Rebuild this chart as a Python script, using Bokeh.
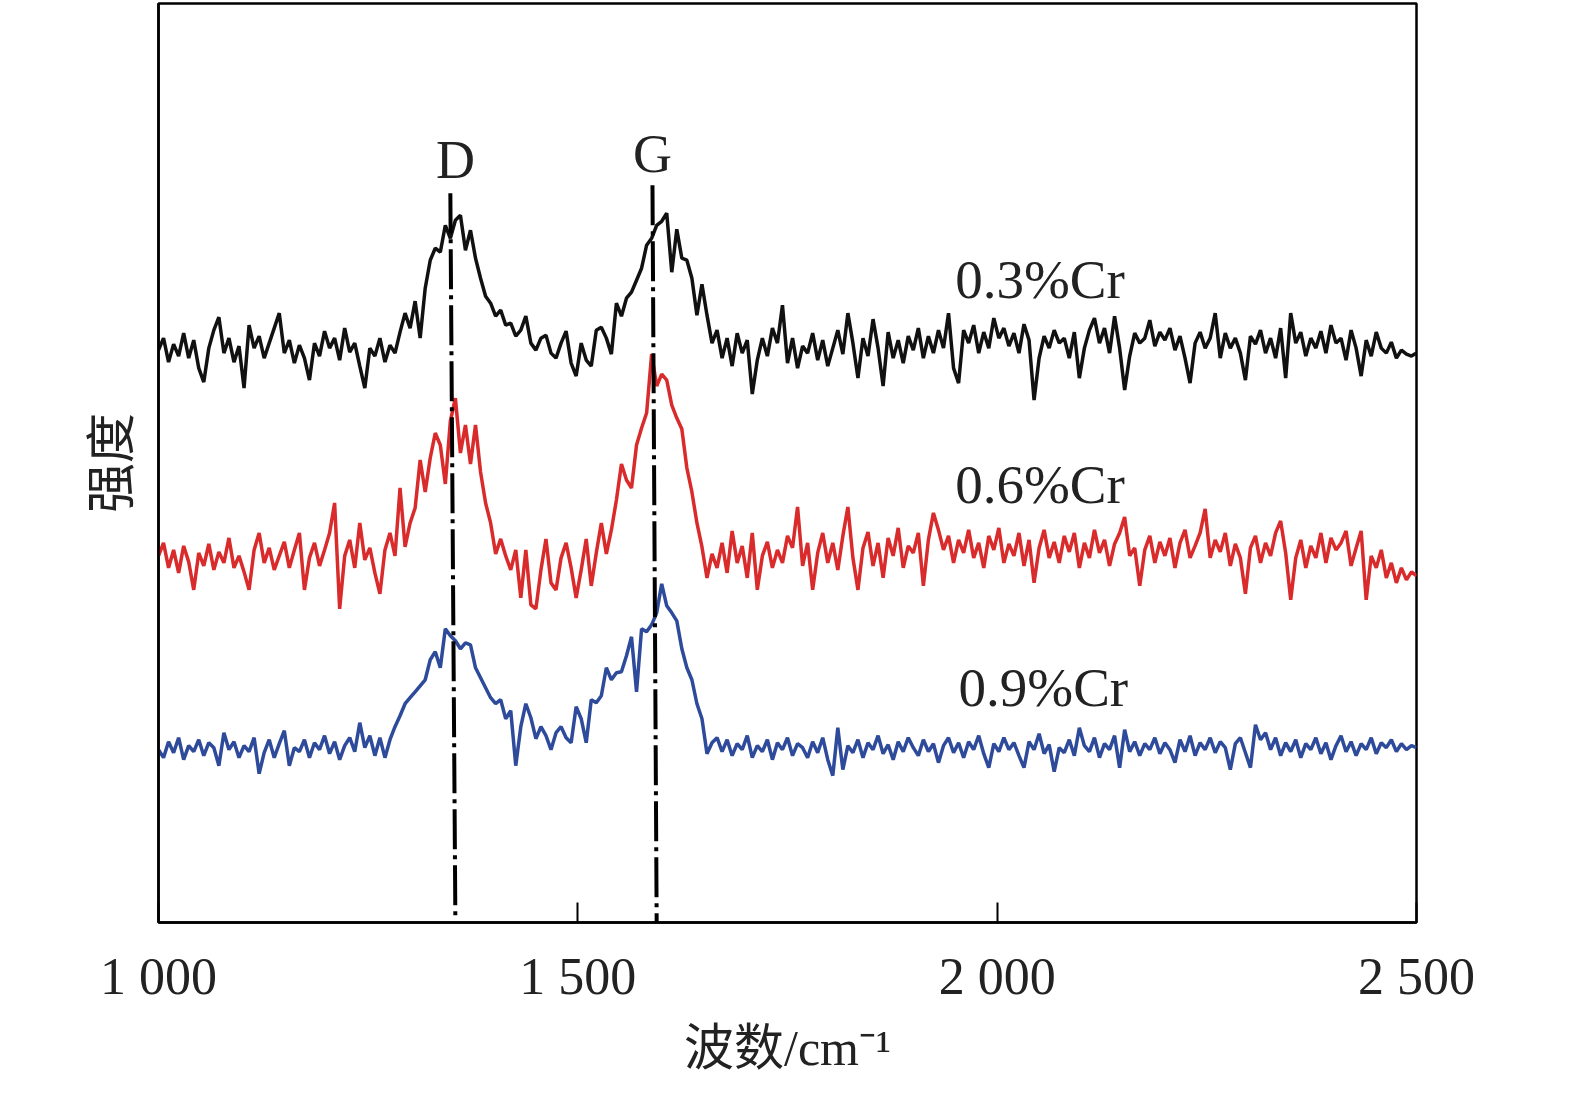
import numpy as np
from bokeh.plotting import figure
from bokeh.models import FixedTicker, Range1d
from bokeh.core.properties import value
from bokeh.embed import file_html
from bokeh.resources import INLINE

# Raman spectra, wavenumber grid (cm-1) and intensities (a.u.)
wavenumber = np.linspace(1000, 2500, 251)

cr03 = [578, 590, 566, 584, 572, 595, 570, 588, 560, 546,
        580, 598, 611, 575, 590, 566, 582, 540, 603, 580,
        592, 570, 585, 600, 615, 575, 588, 565, 583, 570,
        548, 585, 572, 597, 580, 590, 568, 600, 576, 585,
        562, 540, 580, 572, 590, 566, 583, 575, 596, 615,
        600, 627, 590, 640, 668, 680, 676, 703, 690, 708,
        713, 678, 698, 670, 650, 632, 625, 612, 618, 603,
        605, 592, 598, 612, 585, 578, 590, 593, 575, 570,
        585, 597, 565, 552, 585, 568, 562, 598, 601, 590,
        574, 625, 612, 630, 636, 648, 660, 683, 690, 703,
        707, 715, 656, 699, 670, 668, 650, 613, 644, 613,
        585, 598, 570, 590, 562, 595, 575, 588, 534, 568,
        590, 572, 600, 585, 623, 565, 590, 560, 582, 575,
        595, 568, 588, 562, 580, 598, 574, 615, 585, 550,
        590, 572, 609, 580, 542, 596, 570, 588, 565, 592,
        578, 600, 570, 592, 575, 598, 580, 615, 560, 545,
        598, 585, 603, 575, 596, 580, 610, 590, 600, 582,
        595, 575, 604, 588, 528, 570, 592, 580, 598, 585,
        590, 570, 596, 550, 580, 598, 610, 585, 600, 575,
        612, 580, 538, 572, 595, 585, 590, 608, 582, 596,
        588, 600, 578, 592, 570, 545, 585, 596, 580, 590,
        615, 570, 595, 580, 590, 575, 548, 592, 584, 598,
        575, 590, 570, 600, 550, 615, 585, 596, 572, 590,
        580, 597, 575, 603, 585, 590, 568, 598, 580, 552,
        588, 572, 596, 580, 575, 586, 570, 578, 574, 572, 575]

cr06 = [372, 385, 360, 378, 355, 382, 366, 338, 375, 362,
        384, 358, 376, 365, 390, 360, 372, 356, 338, 378,
        395, 365, 380, 358, 372, 386, 360, 378, 395, 338,
        370, 385, 362, 378, 395, 425, 319, 372, 388, 360,
        405, 368, 380, 355, 334, 378, 395, 372, 440, 381,
        405, 420, 468, 436, 470, 495, 483, 444, 507, 530,
        475, 503, 464, 503, 456, 425, 405, 374, 389, 372,
        358, 378, 330, 378, 323, 319, 358, 389, 345, 338,
        370, 385, 360, 330, 358, 389, 342, 375, 405, 374,
        398, 428, 464, 448, 440, 483, 500, 515, 574, 542,
        554, 548, 523, 510, 499, 460, 436, 405, 381, 350,
        374, 360, 385, 355, 397, 365, 382, 350, 395, 338,
        372, 386, 360, 378, 365, 392, 380, 421, 362, 385,
        338, 375, 395, 365, 385, 358, 392, 421, 370, 338,
        380, 396, 362, 385, 350, 390, 372, 400, 360, 382,
        375, 395, 342, 388, 415, 398, 378, 392, 365, 388,
        375, 398, 370, 385, 360, 392, 378, 400, 365, 384,
        372, 395, 362, 388, 345, 380, 398, 370, 386, 365,
        392, 376, 395, 360, 385, 370, 398, 375, 388, 362,
        384, 395, 411, 372, 380, 342, 378, 392, 365, 386,
        372, 390, 360, 385, 398, 370, 382, 395, 419, 370,
        388, 376, 395, 362, 384, 370, 334, 380, 392, 365,
        385, 372, 395, 407, 375, 328, 370, 388, 360, 382,
        370, 395, 365, 390, 378, 385, 397, 362, 380, 397,
        328, 372, 360, 378, 350, 365, 345, 360, 348, 356, 352]

cr09 = [178, 170, 186, 175, 190, 168, 182, 176, 188, 172,
        185, 180, 162, 195, 178, 186, 170, 182, 176, 190,
        154, 175, 188, 170, 184, 197, 162, 180, 176, 188,
        170, 185, 178, 192, 174, 186, 168, 182, 190, 176,
        205, 180, 192, 172, 190, 170, 188, 201, 212, 224,
        230, 236, 242, 248, 268, 276, 260, 299, 292, 287,
        279, 285, 283, 260, 250, 240, 230, 224, 228, 209,
        217, 162, 201, 224, 210, 189, 201, 192, 178, 195,
        201, 190, 185, 221, 209, 185, 228, 225, 232, 260,
        248, 255, 256, 272, 291, 236, 299, 296, 303, 315,
        344, 322, 315, 307, 279, 260, 248, 224, 209, 174,
        185, 190, 176, 188, 172, 184, 178, 192, 170, 182,
        176, 188, 168, 185, 178, 190, 172, 184, 180, 170,
        186, 175, 190, 168, 152, 200, 158, 182, 175, 188,
        170, 185, 178, 192, 174, 183, 168, 186, 176, 190,
        180, 172, 188, 176, 184, 165, 182, 190, 175, 185,
        170, 186, 178, 192, 174, 160, 184, 176, 190, 178,
        185, 172, 160, 186, 178, 194, 174, 183, 156, 180,
        175, 188, 172, 200, 182, 176, 190, 170, 184, 178,
        192, 160, 198, 176, 186, 172, 184, 178, 190, 174,
        185, 178, 165, 188, 176, 192, 172, 185, 178, 190,
        175, 186, 180, 158, 184, 190, 175, 160, 203, 188,
        195, 178, 190, 172, 185, 176, 188, 170, 184, 178,
        190, 174, 185, 168, 182, 192, 176, 186, 172, 184,
        178, 190, 174, 185, 180, 188, 176, 184, 178, 182, 180]

series_names = ["0.3%Cr", "0.6%Cr", "0.9%Cr"]
series_colors = ["#111111", "#D92B2B", "#2E4A9A"]

# D and G band markers (cm-1), slightly slanted as in the original
band_names = ["D", "G"]
band_top = [1348, 1589]
band_bottom = [1354, 1594]

x_ticks = [1000, 1500, 2000, 2500]
x_tick_labels = ["1 000", "1 500", "2 000", "2 500"]

SERIF = "'Liberation Serif', 'Noto Sans CJK SC'"
TEXT = "#222222"

p = figure(width=1559, height=1078,
           x_range=Range1d(1000, 2500), y_range=Range1d(5, 925),
           output_backend="svg", toolbar_location=None,
           min_border_left=158, min_border_right=143,
           min_border_top=3, min_border_bottom=155)

p.xgrid.visible = False
p.ygrid.visible = False
p.outline_line_color = "black"
p.outline_line_width = 2.5
p.outline_line_alpha = 1.0

p.xaxis.ticker = FixedTicker(ticks=x_ticks)
p.xaxis.major_label_overrides = dict(zip(x_ticks, x_tick_labels))
p.xaxis.major_tick_in = 20
p.xaxis.major_tick_out = 0
p.xaxis.major_tick_line_width = 2
p.xaxis.minor_tick_line_color = None
p.xaxis.major_label_standoff = 25
p.xaxis.major_label_text_font = "Liberation Serif"
p.xaxis.major_label_text_font_size = "52px"
p.xaxis.major_label_text_color = TEXT
p.xaxis.axis_line_width = 2.5
p.xaxis.axis_label = "波数/cm⁻¹"
p.xaxis.axis_label_standoff = 12
p.xaxis.axis_label_text_font = SERIF
p.xaxis.axis_label_text_font_size = "50px"
p.xaxis.axis_label_text_font_style = "normal"
p.xaxis.axis_label_text_color = TEXT

p.yaxis.ticker = FixedTicker(ticks=[])
p.yaxis.minor_tick_line_color = None
p.yaxis.axis_line_width = 2.5
p.yaxis.axis_label = "强度"
p.yaxis.axis_label_standoff = 19
p.yaxis.axis_label_text_font = SERIF
p.yaxis.axis_label_text_font_size = "50px"
p.yaxis.axis_label_text_font_style = "normal"
p.yaxis.axis_label_text_color = TEXT

for vals, col in zip([cr03, cr06, cr09], series_colors):
    p.line(wavenumber, vals, line_color=col, line_width=3.5)

p.segment(x0=band_top, y0=[735, 743], x1=band_bottom, y1=[6, 5],
          line_color="black", line_width=4, line_dash="40 6 4 6")

p.text(x=[1354, 1589], y=[768, 774], text=band_names,
       text_font=value("Liberation Serif"), text_font_size="54px",
       text_align="center", text_baseline="middle", text_color=TEXT)

p.text(x=[1950, 1950, 1954], y=[649, 443, 240], text=series_names,
       text_font=value("Liberation Serif"), text_font_size="55px",
       text_align="left", text_baseline="middle", text_color=TEXT)

open("out.html", "w").write(file_html(p, INLINE))
